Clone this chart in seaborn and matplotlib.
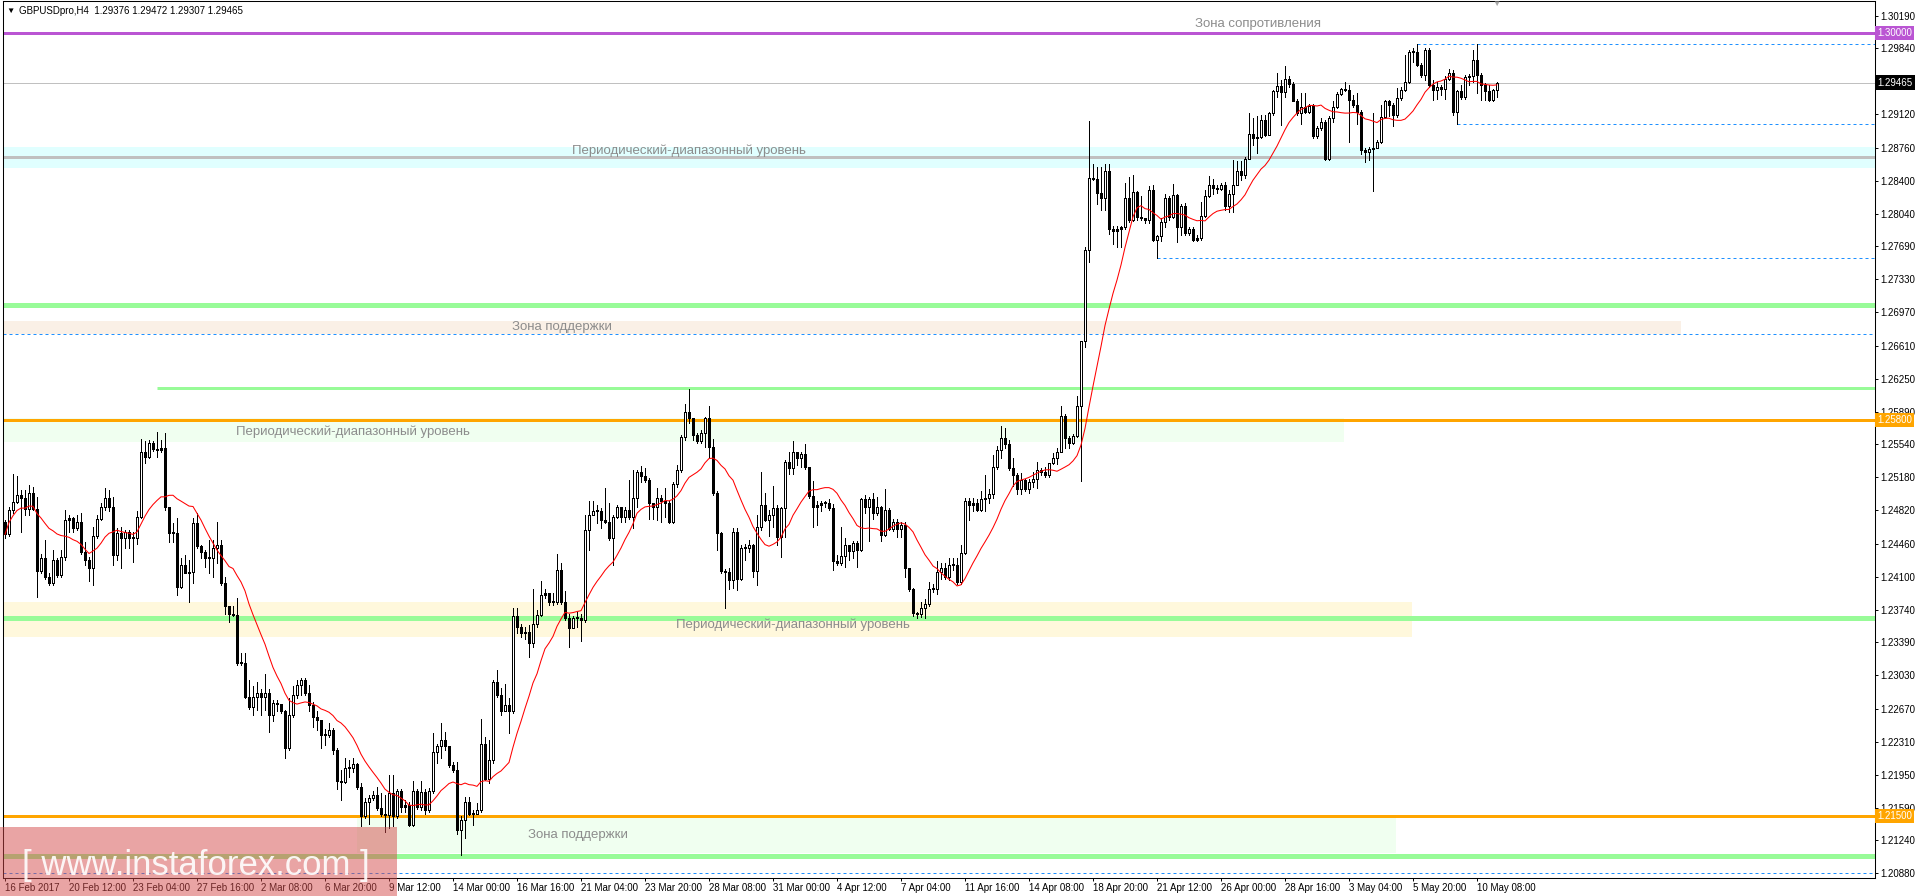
import numpy as np
import pandas as pd
import matplotlib
matplotlib.use("Agg")
import matplotlib.pyplot as plt
from matplotlib.patches import Rectangle
from matplotlib.transforms import blended_transform_factory
import seaborn as sns

# ------------------------------------------------------------
# GBPUSD H4 candles, 16 Feb 2017 .. 11 May 2017
# prices are stored as pips above 1.2000
# ------------------------------------------------------------
first_open = 470

close_pips = [
    456, 482, 491, 499, 495, 484, 501, 484, 416, 430, 410, 403, 428, 412, 432, 472, 474, 463, 470, 437,
    428, 419, 454, 473, 486, 495, 486, 434, 457, 452, 459, 452, 452, 475, 546, 540, 555, 549, 548, 550,
    486, 457, 458, 399, 423, 414, 415, 468, 443, 437, 430, 430, 441, 445, 403, 378, 370, 369, 316, 316,
    280, 269, 280, 284, 280, 284, 260, 273, 272, 264, 224, 260, 282, 293, 298, 284, 271, 258, 255, 238,
    238, 244, 222, 188, 187, 202, 202, 207, 182, 150, 166, 170, 173, 159, 153, 151, 175, 150, 177, 160,
    162, 141, 177, 160, 176, 157, 177, 220, 226, 233, 226, 206, 200, 135, 146, 166, 153, 153, 157, 229,
    191, 211, 296, 282, 264, 271, 264, 367, 356, 349, 350, 338, 359, 368, 390, 392, 383, 383, 417, 383,
    365, 354, 365, 365, 363, 461, 477, 481, 481, 472, 470, 452, 475, 486, 475, 482, 475, 495, 524, 519,
    515, 490, 486, 495, 492, 490, 470, 511, 526, 562, 589, 582, 564, 557, 566, 582, 551, 501, 457, 416,
    415, 407, 459, 408, 441, 441, 444, 416, 464, 488, 472, 477, 485, 453, 485, 535, 528, 546, 539, 543,
    529, 498, 486, 488, 490, 490, 485, 427, 425, 433, 445, 438, 447, 439, 494, 486, 494, 479, 486, 455,
    483, 462, 469, 462, 466, 419, 397, 371, 370, 376, 380, 397, 397, 415, 419, 410, 423, 423, 404, 436,
    492, 488, 490, 483, 494, 496, 500, 529, 548, 561, 554, 528, 520, 505, 515, 505, 513, 516, 526, 524,
    520, 533, 539, 546, 585, 561, 555, 563, 595, 666, 765, 843, 842, 827, 821, 851, 788, 785, 788, 790,
    821, 797, 828, 801, 799, 797, 830, 776, 780, 795, 821, 801, 824, 790, 812, 783, 788, 776, 778, 802,
    823, 835, 832, 831, 835, 812, 826, 835, 850, 846, 864, 891, 886, 887, 906, 890, 913, 937, 943, 936,
    950, 945, 927, 913, 920, 915, 921, 888, 897, 904, 863, 908, 920, 934, 939, 938, 928, 922, 915, 873,
    871, 874, 876, 882, 909, 926, 922, 911, 930, 938, 947, 980, 980, 966, 955, 982, 944, 938, 942, 940,
    950, 957, 915, 937, 931, 953, 954, 971, 955, 944, 937, 928, 938, 946.5,
]

high_pips = [
    472, 486, 522, 519, 504, 504, 510, 508, 497, 435, 450, 414, 439, 430, 439, 483, 477, 475, 477, 479,
    448, 432, 464, 477, 490, 506, 504, 497, 463, 464, 461, 461, 459, 481, 560, 557, 558, 557, 567, 558,
    566, 486, 468, 474, 430, 434, 428, 474, 479, 445, 439, 450, 450, 470, 450, 410, 378, 378, 387, 327,
    327, 298, 291, 296, 288, 305, 288, 276, 276, 272, 265, 278, 291, 298, 300, 300, 292, 274, 264, 255,
    245, 251, 246, 224, 200, 213, 211, 213, 208, 186, 170, 173, 177, 182, 175, 173, 195, 195, 180, 180,
    168, 165, 188, 180, 188, 180, 181, 240, 229, 251, 242, 226, 209, 209, 150, 171, 171, 157, 164, 256,
    236, 233, 298, 309, 289, 294, 278, 376, 376, 359, 356, 358, 397, 374, 405, 397, 392, 392, 435, 425,
    395, 370, 367, 372, 370, 477, 492, 492, 488, 485, 506, 490, 477, 488, 486, 486, 515, 526, 526, 530,
    528, 517, 490, 506, 499, 506, 492, 513, 531, 564, 598, 614, 582, 566, 569, 584, 595, 560, 503, 459,
    418, 419, 463, 463, 444, 446, 450, 446, 477, 524, 501, 483, 509, 488, 486, 537, 546, 557, 546, 545,
    554, 529, 514, 492, 492, 492, 494, 489, 434, 464, 452, 445, 449, 449, 496, 499, 497, 501, 497, 487,
    505, 485, 473, 473, 470, 470, 419, 398, 372, 383, 386, 404, 402, 427, 425, 425, 430, 430, 430, 445,
    495, 495, 495, 494, 503, 520, 505, 542, 552, 574, 572, 559, 539, 523, 523, 516, 516, 524, 535, 528,
    529, 534, 544, 550, 595, 587, 563, 565, 606, 666, 768, 905, 858, 855, 855, 858, 858, 791, 791, 791,
    837, 844, 846, 829, 823, 800, 834, 835, 781, 800, 826, 823, 836, 826, 815, 816, 790, 790, 781, 817,
    830, 845, 842, 835, 838, 839, 830, 862, 861, 861, 866, 913, 908, 910, 911, 911, 915, 938, 957, 949,
    964, 954, 947, 929, 935, 935, 923, 923, 899, 908, 906, 910, 927, 936, 941, 947, 944, 933, 935, 917,
    875, 877, 913, 884, 922, 928, 928, 924, 941, 942, 976, 982, 984, 988, 968, 984, 984, 949, 947, 944,
    954, 961, 960, 938, 944, 955, 956, 982, 988, 957, 946, 944, 940, 947.2,
]

low_pips = [
    452, 454, 479, 490, 459, 477, 477, 483, 388, 414, 408, 401, 401, 410, 410, 428, 459, 459, 461, 435,
    423, 405, 401, 452, 472, 483, 481, 423, 428, 419, 441, 441, 426, 446, 474, 533, 539, 547, 540, 546,
    483, 448, 448, 390, 398, 414, 383, 403, 441, 430, 421, 414, 410, 425, 401, 370, 361, 367, 314, 314,
    278, 267, 260, 265, 260, 265, 242, 253, 264, 262, 213, 222, 258, 278, 282, 282, 264, 247, 244, 224,
    227, 236, 218, 180, 168, 186, 193, 198, 180, 139, 148, 142, 168, 157, 150, 133, 137, 139, 148, 155,
    155, 140, 139, 158, 157, 152, 155, 175, 208, 213, 222, 204, 198, 131, 108, 126, 151, 141, 153, 155,
    189, 186, 208, 280, 260, 264, 240, 262, 349, 345, 343, 323, 334, 356, 367, 387, 379, 379, 381, 381,
    363, 334, 354, 356, 340, 361, 439, 477, 468, 463, 468, 450, 423, 474, 470, 470, 473, 463, 486, 513,
    513, 473, 473, 472, 470, 475, 468, 468, 508, 524, 558, 577, 559, 555, 555, 551, 539, 499, 439, 414,
    376, 397, 398, 396, 406, 428, 437, 410, 401, 461, 471, 454, 464, 445, 432, 453, 522, 522, 531, 529,
    527, 496, 464, 466, 481, 486, 483, 417, 423, 423, 421, 428, 430, 421, 438, 479, 449, 473, 477, 449,
    454, 461, 460, 453, 453, 410, 395, 367, 365, 366, 365, 378, 393, 391, 408, 408, 406, 417, 402, 402,
    435, 472, 481, 481, 481, 481, 490, 495, 527, 539, 550, 526, 509, 500, 500, 503, 501, 507, 506, 520,
    518, 518, 532, 532, 546, 550, 550, 554, 562, 514, 659, 752, 841, 815, 808, 808, 782, 771, 768, 768,
    788, 795, 796, 797, 797, 794, 794, 774, 756, 774, 790, 797, 799, 773, 781, 781, 781, 774, 774, 776,
    801, 822, 826, 827, 830, 808, 806, 806, 835, 841, 843, 863, 879, 870, 886, 888, 890, 911, 931, 900,
    931, 942, 926, 911, 901, 913, 913, 886, 886, 895, 862, 862, 904, 919, 933, 937, 882, 920, 902, 869,
    860, 862, 829, 875, 881, 908, 910, 899, 909, 928, 937, 946, 969, 964, 953, 949, 942, 928, 929, 933,
    929, 949, 911, 901, 929, 929, 944, 947, 935, 928, 928, 927, 926, 930.7,
]

date_labels = ["16 Feb 2017", "20 Feb 12:00", "23 Feb 04:00", "27 Feb 16:00", "2 Mar 08:00",
               "6 Mar 20:00", "9 Mar 12:00", "14 Mar 00:00", "16 Mar 16:00", "21 Mar 04:00",
               "23 Mar 20:00", "28 Mar 08:00", "31 Mar 00:00", "4 Apr 12:00", "7 Apr 04:00",
               "11 Apr 16:00", "14 Apr 08:00", "18 Apr 20:00", "21 Apr 12:00", "26 Apr 00:00",
               "28 Apr 16:00", "3 May 04:00", "5 May 20:00", "10 May 08:00"]

price_ticks = [1.30190, 1.29840, 1.29480, 1.29120, 1.28760, 1.28400, 1.28040, 1.27690, 1.27330,
               1.26970, 1.26610, 1.26250, 1.25890, 1.25540, 1.25180, 1.24820, 1.24460, 1.24100,
               1.23740, 1.23390, 1.23030, 1.22670, 1.22310, 1.21950, 1.21590, 1.21240, 1.20880]

# levels drawn by the analyst
resistance_level = 1.30000
orange_levels = [1.25800, 1.21500]
green_levels = [1.27050, 1.23656, 1.21069]
green_short_level = 1.26152
range_level = 1.28654
last_price = 1.29465

# ------------------------------------------------------------
# build the frame
# ------------------------------------------------------------
df = pd.DataFrame({
    "bar": np.arange(len(close_pips)),
    "close": 1.2 + np.array(close_pips, dtype=float) / 10000,
    "high": 1.2 + np.array(high_pips, dtype=float) / 10000,
    "low": 1.2 + np.array(low_pips, dtype=float) / 10000,
})
df["open"] = df["close"].shift(1).fillna(1.2 + first_open / 10000)
df["ma"] = df["close"].rolling(14, min_periods=1).mean()

sns.set_theme(style="white")
plt.rcParams["font.family"] = ["Liberation Sans", "DejaVu Sans"]

W, H = 1920, 896
fig = plt.figure(figsize=(W / 100, H / 100), dpi=100)
fig.patch.set_facecolor("white")
ax = fig.add_axes([3 / W, 1 - 878 / H, (1875 - 3) / W, 877 / H])
ax.set_facecolor("white")

X0, X1 = -0.5, 467.5
Y0, Y1 = 1.208301, 1.303506
ax.set_xlim(X0, X1)
ax.set_ylim(Y0, Y1)
PX = (Y1 - Y0) / 877          # one screen pixel in price units
LW1 = 0.72                    # one pixel in points at 100 dpi

# ---- background zones ----
zones = [  # (low, high, x_start, x_end, colour)
    (1.28536, 1.28764, X0, X1, "#E0FFFF"),
    (1.26741, 1.26880, X0, 419.0, "#FAF0E6"),
    (1.25566, 1.25824, X0, 334.75, "#F0FFF0"),
    (1.23445, 1.23825, X0, 351.75, "#FFF8DC"),
    (1.21100, 1.21497, 88.0, 347.75, "#F0FFF0"),
]
for lo, hi, xa, xb, col in zones:
    ax.add_patch(Rectangle((xa, lo), xb - xa, hi - lo, facecolor=col, edgecolor="none", zorder=0.5))

# ---- horizontal levels ----
ax.hlines(resistance_level, X0, X1, colors="#BA55D3", lw=3 * LW1, zorder=1)
ax.hlines(range_level, X0, X1, colors="#C0C0C0", lw=3 * LW1, zorder=1)
ax.hlines(last_price, X0, X1, colors="#C0C0C0", lw=LW1, zorder=1)
for lvl in orange_levels:
    ax.hlines(lvl, X0, X1, colors="#FFA500", lw=3 * LW1, zorder=1)
for lvl in green_levels:
    ax.hlines(lvl, X0, X1, colors="#98FB98", lw=5 * LW1, zorder=1)
ax.hlines(green_short_level, 38, X1, colors="#98FB98", lw=3 * LW1, zorder=1)

dash_style = (0, (3.0, 3.0))
dashed = [(1.29884, 353), (1.29016, 363), (1.27558, 288), (1.26741, X0), (1.20880, X0)]
for lvl, xa in dashed:
    ax.hlines(lvl, xa, X1, colors="#1E90FF", lw=LW1, linestyles=[dash_style], zorder=1.2)

# ---- zone captions ----
cap_kw = dict(color="#8c8c8c", fontsize=9.5, ha="center", va="center", zorder=1.5)
ax.text(313.25, 1.30101, "Зона сопротивления", **cap_kw)
ax.text(171.0, 1.28722, "Периодический-диапазонный уровень", **cap_kw)
ax.text(139.25, 1.26812, "Зона поддержки", **cap_kw)
ax.text(87.0, 1.25672, "Периодический-диапазонный уровень", **cap_kw)
ax.text(197.0, 1.23577, "Периодический-диапазонный уровень", **cap_kw)
ax.text(143.25, 1.21298, "Зона поддержки", **cap_kw)

# ---- candles (MT4 style: 3 px bodies, hollow bull candles) ----
body_lo = np.minimum(df["open"], df["close"])
body_hi = np.maximum(np.maximum(df["open"], df["close"]), body_lo + PX)
bull = (df["close"] > df["open"]).to_numpy()
ax.vlines(df["bar"], df["low"], df["high"], colors="black", lw=LW1, zorder=2,
          antialiased=False)
ax.vlines(df["bar"], body_lo, body_hi, colors="black", lw=3 * LW1, zorder=3,
          antialiased=False, capstyle="butt")
inner = bull & ((body_hi - body_lo) > 2.2 * PX).to_numpy()
ax.vlines(df["bar"][inner], (body_lo + PX)[inner], (body_hi - PX)[inner], colors="white",
          lw=LW1, zorder=3.5, antialiased=False, capstyle="butt")

# ---- moving average ----
sns.lineplot(data=df, x="bar", y="ma", color="red", linewidth=0.75, ax=ax, zorder=4,
             errorbar=None, legend=False)

# ---- axes decoration ----
for sp in ax.spines.values():
    sp.set_color("black")
    sp.set_linewidth(0.75)
ax.set_xlabel("")
ax.set_ylabel("")
ax.yaxis.tick_right()
ax.set_yticks(price_ticks)
ax.set_yticklabels([f"{v:.5f}" for v in price_ticks])
ax.set_xticks(range(0, 16 * len(date_labels), 16))
ax.set_xticklabels(date_labels)
for lbl in ax.get_xticklabels():
    lbl.set_horizontalalignment("left")
ax.tick_params(axis="y", which="both", right=True, left=False, direction="out", length=2.2,
               width=0.7, pad=1.5, labelsize=7, colors="black")
ax.tick_params(axis="x", which="both", bottom=True, direction="out", length=2.5, width=0.7,
               pad=1.0, labelsize=7, colors="black")
ax.grid(False)

# price flags on the scale
trans = blended_transform_factory(ax.transAxes, ax.transData)
flags = [(resistance_level, "#BA55D3"), (last_price, "black"),
         (orange_levels[0], "#FFA500"), (orange_levels[1], "#FFA500")]
for lvl, col in flags:
    ax.text(1.0012, lvl, f"{lvl:.5f}", transform=trans, ha="left", va="center", fontsize=7,
            color="white", clip_on=False, zorder=10,
            bbox=dict(boxstyle="square,pad=0.22", facecolor=col, edgecolor="none"))

# title line
fig.text(6 / W, 1 - 11 / H, "▼", fontsize=6, color="black", va="center", ha="left")
fig.text(19 / W, 1 - 11 / H, "GBPUSDpro,H4  1.29376 1.29472 1.29307 1.29465",
         fontsize=7, color="black", va="center", ha="left")
# chart shift marker
fig.text(1496 / W, 1 - 4 / H, "▼", fontsize=6, color="#a8a8a8", va="center", ha="center")

# watermark
fig.add_artist(Rectangle((0, 0), 397 / W, (H - 827) / H, transform=fig.transFigure,
                         facecolor="#D44A4A", edgecolor="none", alpha=0.5, zorder=20))
fig.text(22 / W, (H - 875) / H, "[ www.instaforex.com ]", fontsize=25, color="white",
         alpha=0.9, va="baseline", ha="left", zorder=21)

fig.savefig("out.png", dpi=100, facecolor="white")
